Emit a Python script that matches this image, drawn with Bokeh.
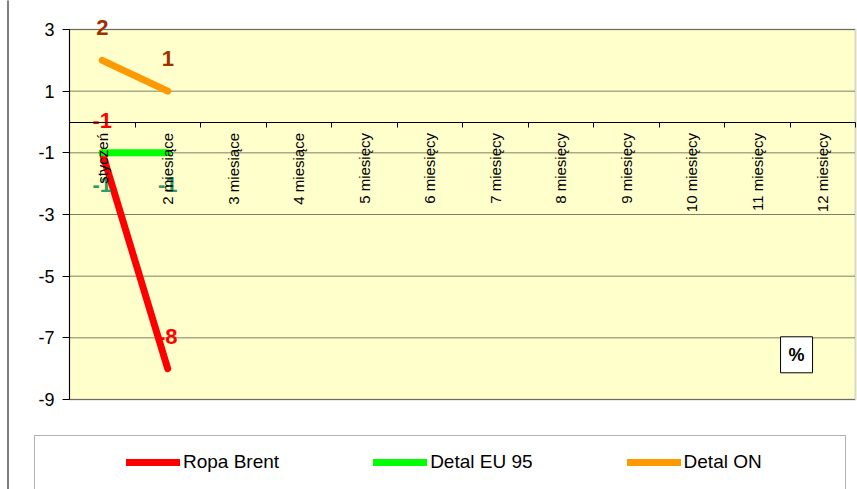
import math
from bokeh.plotting import figure
from bokeh.models import (LinearAxis, FixedTicker, Range1d, Legend, LegendItem,
                          Label, BoxAnnotation, ColumnDataSource)
from bokeh.core.properties import value
from bokeh.embed import file_html
from bokeh.resources import INLINE

categories = ["styczeń", "2 miesiące", "3 miesiące", "4 miesiące", "5 miesięcy",
              "6 miesięcy", "7 miesięcy", "8 miesięcy", "9 miesięcy",
              "10 miesięcy", "11 miesięcy", "12 miesięcy"]
ropa_brent = [-1, -8]
detal_eu95 = [-1, -1]
detal_on = [2, 1]
series_names = ["Ropa Brent", "Detal EU 95", "Detal ON"]
y_ticks = [3, 1, -1, -3, -5, -7, -9]
unit_label = "%"

FONT = "Liberation Sans"
line_colors = ["#FF0000", "#00FF00", "#FF9900"]
label_colors = ["#FF0000", "#339966", "#993300"]
label_offsets = [-32, 32, -33]

W, H = 857, 489
# plot-area placement on the canvas (pixels)
PL, PR, PT, PB = 69, 855, 29, 399

x0, x1 = -0.5, len(categories) - 0.5
y0, y1 = min(y_ticks), max(y_ticks)
sx = (PR - PL) / (x1 - x0)
sy = (PB - PT) / (y1 - y0)
x_range = Range1d(x0 - PL / sx, x1 + (W - PR) / sx)
y_range = Range1d(y0 - (H - PB) / sy, y1 + PT / sy)

p = figure(width=W, height=H, output_backend="svg", toolbar_location=None,
           x_range=x_range, y_range=y_range, x_axis_type=None, y_axis_type=None,
           min_border=0, min_border_left=0, min_border_right=0,
           min_border_top=0, min_border_bottom=0)
p.background_fill_color = "white"
p.border_fill_color = "white"
p.outline_line_color = None
p.xgrid.visible = False
p.ygrid.visible = False

# plot area background
p.add_layout(BoxAnnotation(left=x0, right=x1, bottom=y0, top=y1, level="underlay",
                           fill_color="#FFFFCC", fill_alpha=1,
                           line_color="#808080", line_width=2))

# horizontal dotted gridlines
p.segment(x0=[x0] * len(y_ticks), x1=[x1] * len(y_ticks), y0=y_ticks, y1=y_ticks,
          line_color="#000000", line_width=1, line_dash="1 1")

yaxis = LinearAxis(fixed_location=x0, bounds=(y0, y1),
                   ticker=FixedTicker(ticks=y_ticks),
                   major_label_overrides={t: str(t) for t in y_ticks},
                   axis_line_color="black", major_tick_line_color="black",
                   major_tick_out=7, major_tick_in=0, minor_tick_line_color=None,
                   major_label_text_font=FONT, major_label_text_font_size="18px",
                   major_label_text_color="black", major_label_standoff=8)
p.add_layout(yaxis, "left")

centers = list(range(len(categories)))
bounds = [i - 0.5 for i in range(len(categories) + 1)]
xaxis = LinearAxis(fixed_location=0, bounds=(x0, x1),
                   ticker=FixedTicker(ticks=centers, minor_ticks=bounds),
                   major_label_overrides={i: c for i, c in enumerate(categories)},
                   major_label_orientation=math.pi / 2,
                   major_tick_out=0, major_tick_in=0, major_tick_line_color=None,
                   minor_tick_out=5, minor_tick_in=0, minor_tick_line_color="black",
                   axis_line_color="black",
                   major_label_text_font=FONT, major_label_text_font_size="15px",
                   major_label_text_color="black", major_label_standoff=6)
p.add_layout(xaxis, "below")

renderers = []
for name, vals, lc, tc, off in zip(series_names, [ropa_brent, detal_eu95, detal_on],
                                   line_colors, label_colors, label_offsets):
    src = ColumnDataSource(dict(x=list(range(len(vals))), y=vals,
                                t=[str(v) for v in vals]))
    r = p.line("x", "y", source=src, line_color=lc, line_width=7, line_cap="round",
               line_join="round")
    renderers.append((name, r, src, tc, off))

for name, r, src, tc, off in renderers:
    p.text("x", "y", text="t", source=src, text_color=tc, text_font=value(FONT),
           text_font_style="bold", text_font_size="22px", text_align="center",
           text_baseline="middle", y_offset=off)

# legend frame and outer chart border (screen units, y measured up from bottom)
p.add_layout(BoxAnnotation(left=34, right=845, top=H - 435, bottom=-10,
                           left_units="screen", right_units="screen",
                           top_units="screen", bottom_units="screen",
                           fill_color="white", fill_alpha=1, line_color="black",
                           line_width=1, level="underlay"))
p.add_layout(BoxAnnotation(left=7, right=8, top=H + 10, bottom=-10,
                           left_units="screen", right_units="screen",
                           top_units="screen", bottom_units="screen",
                           fill_color="black", fill_alpha=1, line_color=None))

legend = Legend(items=[LegendItem(label=n, renderers=[r]) for n, r, *_ in renderers],
                orientation="horizontal", location=(126, H - 473), padding=0,
                spacing=94, glyph_width=54, glyph_height=20, label_height=20,
                label_standoff=3, border_line_color=None, background_fill_alpha=0,
                margin=0, label_text_font=FONT, label_text_font_size="19px",
                label_text_color="black")
p.add_layout(legend)

p.add_layout(Label(x=10.6, y=-7.55, text=unit_label, text_align="center",
                   text_baseline="middle", text_font=FONT, text_font_style="bold",
                   text_font_size="18px", text_color="black",
                   background_fill_color="white", border_line_color="black",
                   padding=8))

open("out.html", "w").write(file_html(p, INLINE))
